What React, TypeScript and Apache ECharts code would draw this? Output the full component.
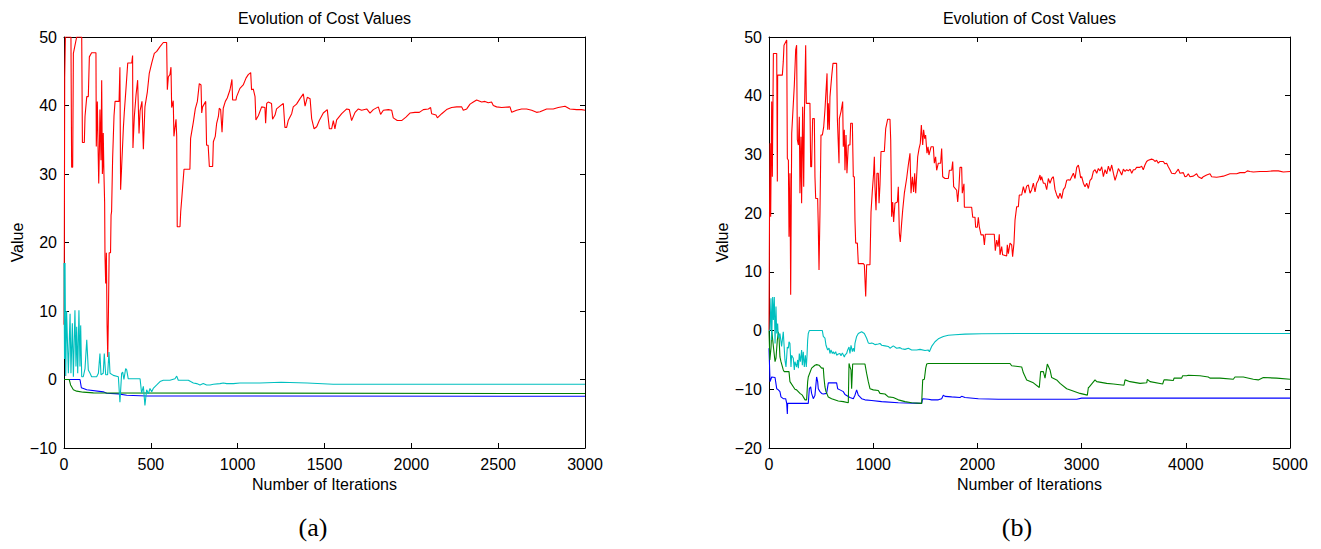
import React, { useEffect, useRef } from "react";
import * as echarts from "echarts";

// ---------- Panel (a) data: [iteration, value] ----------
const redA: number[][] = [
  [0, 8], [2, 20], [4, 44], [8, 50], [40, 50], [44, 31], [50, 31], [54, 47.6], [65, 49], [73, 50], [102, 50],
  [106, 34.6], [117, 34.6], [121, 38.4], [131, 41.3], [140, 41.3], [146, 47.1], [159, 47.7], [184, 47.7],
  [186, 34], [192, 40.6], [196, 34], [200, 28.6], [204, 34], [207, 39.4], [213, 32], [217, 43.7], [221, 30],
  [223, 31.1], [226, 36], [230, 30], [234, 25.8], [236, 18], [240, 14], [244, 18.5], [248, 8], [252, 3.3],
  [256, 10], [260, 18.5], [268, 18.5], [271, 24], [274, 24.5], [280, 32.3], [288, 38.5], [294, 40.6],
  [317, 40.6], [322, 45.6], [326, 27.7], [332, 31.1], [342, 36.8], [347, 38.9], [357, 42.5], [367, 46.2],
  [390, 46.2], [395, 47.3], [397, 33.8], [405, 38.4], [415, 41.6], [424, 43.7], [432, 35.9], [438, 39.2],
  [449, 40.6], [457, 33.6], [466, 39.8], [480, 42], [491, 44.7], [505, 46.2], [520, 47.6], [534, 47.9],
  [553, 48.6], [572, 49.2], [591, 49.2], [595, 42.3], [601, 44.2], [610, 44.5], [616, 45.6], [620, 39.7],
  [629, 40.7], [633, 35.5], [645, 38], [649, 35.5], [652, 22.3], [668, 22.3], [672, 24.5], [679, 26.7],
  [691, 30.7], [725, 30.7], [729, 35.2], [745, 37.6], [756, 39.5], [768, 40.6], [779, 43.2], [789, 43],
  [793, 38.9], [798, 39.8], [816, 40.6], [821, 34.2], [830, 34.2], [837, 31.1], [856, 31.1], [860, 34.7],
  [871, 35.5], [879, 37.4], [889, 38.4], [894, 39.6], [902, 39.4], [910, 36.1], [917, 39.6], [929, 40.6],
  [940, 41.1], [956, 42.3], [967, 43.8], [971, 40.8], [990, 40.8], [994, 41.3], [1013, 42.5], [1032, 43],
  [1048, 44], [1061, 44.5], [1075, 44.8], [1080, 42.3], [1090, 42.4], [1100, 41.3], [1105, 37.9],
  [1119, 38.5], [1138, 39.8], [1157, 39.7], [1161, 37.4], [1167, 40.3], [1176, 40.5], [1195, 40.3],
  [1201, 38], [1215, 38.6], [1224, 39.5], [1243, 39.9], [1263, 40.3], [1272, 36.8], [1282, 36.8],
  [1291, 37.8], [1311, 38.8], [1320, 39.8], [1339, 40.2], [1359, 41], [1378, 41.7], [1388, 39.9],
  [1401, 41.2], [1417, 41], [1426, 38.1], [1440, 36.6], [1455, 36.9], [1470, 37.8], [1493, 38.9],
  [1516, 39.4], [1528, 36.6], [1541, 36.6], [1551, 37.8], [1560, 36.6], [1570, 37.9], [1599, 38.8],
  [1628, 39.5], [1643, 39.4], [1656, 37.8], [1676, 39], [1695, 39.5], [1714, 39.3], [1743, 39.5],
  [1762, 38.9], [1781, 39.4], [1810, 39.8], [1823, 38.7], [1839, 39.3], [1868, 39.4], [1887, 39.3],
  [1896, 38.2], [1919, 37.8], [1944, 37.8], [1969, 38.3], [1992, 38.9], [2021, 39], [2046, 39],
  [2069, 39.4], [2098, 39.5], [2111, 39.7], [2117, 38.8], [2142, 38.6], [2150, 38.2], [2175, 38.8],
  [2203, 39.4], [2232, 39.7], [2261, 39.8], [2290, 39.8], [2299, 39.3], [2319, 39.5], [2338, 40.2],
  [2357, 40.5], [2376, 40.8], [2405, 40.5], [2424, 40.6], [2443, 40.4], [2462, 40.5], [2472, 40],
  [2491, 39.8], [2520, 39.7], [2568, 39.8], [2578, 39], [2606, 39.3], [2635, 39.5], [2664, 39.5],
  [2693, 39.3], [2721, 39], [2741, 39.1], [2779, 39.5], [2817, 39.5], [2846, 39.7], [2885, 39.9],
  [2913, 39.5], [2952, 39.4], [2981, 39.4], [3000, 39.3],
];

const cyanA: number[][] = [
  [0, 17], [3, 3], [6, 17], [10, 0.5], [15, 10], [25, 0.9], [35, 9.6], [40, 0.9], [48, 8.2], [54, 0.4],
  [63, 10.1], [69, 1.9], [73, 7.7], [79, 0.9], [86, 10.1], [92, 1.9], [96, 7.9], [102, 0.4], [111, 0.4],
  [121, 1.6], [131, 5.8], [140, 1.4], [150, 0.9], [159, 0.4], [188, 0.4], [198, 0.9], [207, 3.8],
  [213, 0.7], [226, 0.9], [232, 3.8], [240, 0.7], [251, 0.7], [259, 4], [265, 0.9], [284, 0.6],
  [313, 0.4], [322, -3.3], [332, 0.9], [338, 1.1], [345, 0], [355, 1.6], [361, 1.4], [370, 0.1],
  [418, 0.1], [438, 0.1], [447, -2], [457, -1], [466, -3.8], [476, -1.5], [486, -2.1], [495, -1.3],
  [505, -1.8], [514, -1.3], [534, -0.8], [553, -0.3], [572, -0.1], [591, -0.1], [610, -0.1], [639, 0.1],
  [649, 0.5], [658, -0.1], [687, -0.1], [716, -0.1], [729, -0.3], [745, -0.5], [764, -0.6], [783, -0.8],
  [802, -0.6], [821, -0.8], [841, -0.8], [860, -0.7], [898, -0.6], [917, -0.5], [937, -0.6], [975, -0.6],
  [1013, -0.5], [1052, -0.5], [1090, -0.5], [1128, -0.5], [1250, -0.4], [1400, -0.5], [1550, -0.7],
  [2000, -0.7], [2500, -0.7], [3000, -0.7],
];

const greenA: number[][] = [
  [0, 0], [30, 0], [38, -0.8], [54, -1.5], [73, -1.7], [111, -1.85], [169, -1.95], [3000, -2.05],
];

const blueA: number[][] = [
  [0, 0], [92, 0], [100, -1.2], [131, -1.5], [226, -1.8], [246, -2], [313, -2.1], [361, -2.3],
  [476, -2.4], [3000, -2.45],
];

// ---------- Panel (b) data: [iteration, value] ----------
const redB: number[][] = [
  [0, 0], [5, 20], [10, 31.9], [16, 19.4], [26, 39], [32, 26.2], [42, 47.2], [74, 47.2], [80, 25.4],
  [83, 43.5], [128, 43.5], [137, 45.8], [144, 48.6], [170, 49.5], [176, 29.3], [186, 29], [192, 16],
  [201, 26.8], [208, 6.1], [218, 33.6], [224, 33.6], [243, 41.8], [256, 47.8], [265, 48.6], [272, 32.5],
  [282, 31.6], [291, 36.4], [297, 23.4], [307, 33], [313, 21.7], [323, 38.1], [333, 24.5], [339, 35.9],
  [352, 48.6], [358, 38.7], [393, 38.7], [400, 27.9], [409, 27.9], [419, 36.1], [435, 36.1], [441, 26.2],
  [448, 22.5], [467, 22.5], [473, 17.7], [480, 10.3], [489, 20], [499, 33.3], [512, 33.3], [525, 34.7],
  [537, 37.6], [547, 40.7], [557, 43.8], [563, 34.2], [569, 38.7], [579, 34.2], [585, 39.8], [601, 43.2],
  [614, 45.5], [649, 45.5], [656, 36.1], [672, 28.5], [675, 36.1], [691, 37.3], [707, 39], [713, 31.3],
  [723, 34.2], [729, 27.3], [739, 33.3], [748, 26.8], [761, 31.6], [777, 31.6], [784, 35.3], [800, 35.3],
  [809, 26.2], [819, 26.2], [825, 18.8], [832, 14.9], [848, 14.9], [857, 11.4], [905, 11.4], [915, 11.2],
  [928, 5.8], [937, 11.2], [969, 11.2], [979, 20.2], [992, 23.9], [1004, 26.8], [1011, 29.6], [1017, 24.5],
  [1027, 20.5], [1036, 26.8], [1049, 26.8], [1056, 21.7], [1065, 24.8], [1075, 30.5], [1107, 30.5],
  [1120, 34.4], [1139, 36], [1161, 36], [1168, 32.5], [1177, 19.4], [1187, 21.9], [1196, 18.5],
  [1209, 21.7], [1232, 21.9], [1241, 24.5], [1251, 16.6], [1260, 15.1], [1273, 18.3], [1283, 20.5],
  [1299, 23.4], [1321, 25.9], [1337, 28.2], [1353, 30.2], [1363, 23.4], [1376, 26.2], [1388, 23.6],
  [1398, 26.8], [1408, 23.4], [1420, 27.3], [1427, 29.6], [1440, 31], [1452, 31.9], [1462, 35],
  [1475, 31.6], [1484, 34.2], [1494, 32.7], [1503, 33.3], [1516, 30.2], [1526, 31.3], [1535, 29.9],
  [1555, 31.3], [1577, 31.3], [1587, 28.5], [1599, 29.6], [1609, 27.3], [1625, 28.5], [1647, 28.5],
  [1657, 31], [1667, 26.2], [1689, 25.9], [1721, 25.9], [1731, 27.3], [1753, 27.3], [1763, 28.8],
  [1772, 24.5], [1801, 23.9], [1811, 21.9], [1823, 24.5], [1833, 27.8], [1849, 27.8], [1855, 23.4],
  [1871, 25], [1875, 21], [1945, 21], [1955, 19.3], [1977, 19.3], [1983, 17.6], [1999, 17.6],
  [2009, 19.3], [2019, 17.6], [2035, 16.3], [2057, 16.3], [2067, 14.6], [2076, 16.4], [2162, 16.4],
  [2172, 13.6], [2185, 15.4], [2198, 14.3], [2210, 16.4], [2217, 12.9], [2233, 14.3], [2242, 12.9],
  [2281, 12.7], [2287, 14.6], [2297, 13.1], [2313, 14.9], [2329, 14.6], [2338, 12.6], [2351, 14.9],
  [2361, 18.8], [2377, 21.1], [2393, 21.1], [2402, 23.1], [2425, 23.1], [2441, 24.5], [2457, 23.4],
  [2473, 24.6], [2489, 24.8], [2505, 23.4], [2521, 24], [2537, 25.1], [2553, 23.6], [2569, 25.1],
  [2585, 25.6], [2601, 26.5], [2607, 25.6], [2617, 26.2], [2633, 25.1], [2649, 25.1], [2665, 24],
  [2681, 25.9], [2697, 25.1], [2713, 25.9], [2729, 26.2], [2745, 24], [2761, 23.1], [2777, 22.5],
  [2793, 23.4], [2809, 22.5], [2825, 24], [2841, 24.4], [2857, 25.6], [2873, 25.7], [2889, 25.6],
  [2905, 26.2], [2921, 26.8], [2937, 25.9], [2953, 27.8], [2969, 28.2], [2978, 27.4], [2991, 26],
  [3001, 26.2], [3017, 25.1], [3033, 24.5], [3049, 25.1], [3065, 24.2], [3081, 25.6], [3097, 25.9],
  [3113, 27.1], [3129, 27.4], [3145, 26.8], [3161, 27.6], [3177, 27.2], [3193, 27.9], [3209, 26.2],
  [3225, 27.4], [3241, 26.7], [3257, 28], [3273, 27.1], [3289, 28.2], [3305, 26.8], [3321, 25.6],
  [3337, 26.5], [3353, 27.6], [3369, 27.1], [3385, 26.5], [3401, 27.5], [3417, 27.1], [3433, 27.4],
  [3449, 27.2], [3465, 27.5], [3481, 26.8], [3497, 27.4], [3512, 27.4], [3528, 27.8], [3560, 27.8],
  [3576, 28], [3592, 27.4], [3608, 28.2], [3624, 28.8], [3640, 29], [3672, 29.2], [3688, 29.1],
  [3704, 28.8], [3720, 29], [3736, 28.5], [3752, 28.8], [3784, 28.8], [3800, 28.4], [3816, 28.5],
  [3832, 27.9], [3848, 27.4], [3864, 26.8], [3896, 26.7], [3912, 27.1], [3928, 27.5], [3944, 26.8],
  [3976, 26.9], [3992, 26.2], [4008, 26.3], [4024, 26.7], [4040, 26.2], [4072, 26.3], [4104, 26.7],
  [4120, 26.2], [4152, 25.9], [4168, 26.2], [4200, 26.5], [4232, 26.7], [4248, 26.2], [4296, 26.1],
  [4328, 26.2], [4360, 26.3], [4392, 26.5], [4424, 26.7], [4488, 26.7], [4520, 26.9], [4568, 26.9],
  [4591, 27.2], [4616, 27.1], [4648, 27], [4712, 27.1], [4776, 27.1], [4840, 27.2], [4888, 27.2],
  [4936, 27], [5000, 27.1],
];

const cyanB: number[][] = [
  [0, 0], [10, 0.1], [19, 5.5], [26, -1.6], [35, 5.7], [42, 1.8], [51, 5.7], [58, -2.2], [67, 4.1],
  [74, -0.5], [83, 1.2], [90, -1.3], [105, -0.5], [121, -2.7], [137, -0.2], [153, -5], [163, -6.2],
  [176, -2.8], [186, -3], [192, -1.9], [201, -2.2], [211, -6.2], [217, -4.2], [233, -4.7], [243, -6.7],
  [249, -5.3], [265, -6.2], [275, -5], [282, -6.4], [291, -3.9], [301, -5.3], [313, -3.3], [320, -5.9],
  [329, -3.6], [339, -6.2], [349, -4.2], [358, -6.2], [365, -4.2], [371, -1.6], [377, -0.5], [387, 0],
  [441, 0], [512, 0], [521, -1], [537, -1.3], [547, -2.5], [563, -3.3], [576, -3], [585, -3.9],
  [595, -3.3], [608, -3.9], [617, -3.6], [627, -4], [640, -3.6], [649, -4.2], [665, -4], [681, -3.9],
  [691, -4.3], [704, -3.8], [723, -4.5], [729, -4.2], [745, -3.9], [755, -3.3], [768, -2.8], [777, -3.9],
  [787, -2.5], [800, -3.6], [809, -3], [819, -3.6], [825, -2.2], [841, -1], [857, -0.5], [889, -0.2],
  [915, -0.5], [937, -1.3], [953, -2.1], [969, -2.2], [985, -2.1], [1001, -2.2], [1017, -2.4],
  [1049, -2.3], [1065, -2.2], [1081, -2.5], [1113, -2.6], [1145, -2.7], [1161, -3], [1193, -2.6],
  [1225, -3], [1257, -2.9], [1273, -3.1], [1305, -3.2], [1337, -3], [1369, -3.3], [1417, -3.3],
  [1449, -3.2], [1497, -3.4], [1529, -3.3], [1539, -3.6], [1561, -2.7], [1593, -1.9], [1625, -1.4],
  [1673, -1], [1721, -0.8], [1785, -0.7], [1881, -0.6], [2041, -0.55], [2457, -0.5], [3000, -0.5],
  [4000, -0.5], [5000, -0.5],
];

const greenB: number[][] = [
  [0, 0], [8, -5], [19, -3], [26, 0], [42, -2.7], [58, -5.3], [67, -4.7], [80, -1.6], [90, -0.2],
  [96, -1.1], [105, -4.5], [115, -5.3], [137, -6.7], [147, -7], [192, -7], [201, -8.7], [249, -10],
  [265, -10.1], [297, -10.7], [320, -11], [346, -11.8], [361, -11.8], [371, -8.7], [377, -7.9],
  [409, -6.4], [441, -5.9], [457, -5.8], [480, -5.9], [505, -6.4], [521, -6.4], [528, -8.1], [537, -9.6],
  [547, -10.4], [569, -11.3], [601, -11.6], [665, -12], [713, -12.1], [761, -12.3], [768, -5.6],
  [777, -6.2], [787, -6.7], [793, -9.9], [803, -5.7], [921, -5.7], [937, -7.3], [953, -8.7], [969, -9.9],
  [1001, -10.1], [1049, -10.2], [1065, -10.7], [1113, -10.8], [1145, -11.3], [1193, -11.4],
  [1241, -11.8], [1305, -12.1], [1369, -12.3], [1465, -12.4], [1475, -8.4], [1491, -8.3], [1504, -6.4],
  [1513, -5.7], [1529, -5.6], [2313, -5.6], [2329, -6], [2425, -6.2], [2441, -7.2], [2473, -8.4],
  [2537, -8.9], [2594, -9.7], [2607, -7], [2633, -7], [2649, -8.1], [2671, -5.7], [2697, -6.7],
  [2713, -8], [2761, -8.4], [2793, -9], [2857, -9.9], [2905, -10.2], [2985, -10.7], [3055, -11],
  [3065, -9.7], [3074, -9.6], [3129, -8.4], [3145, -8.7], [3241, -9], [3305, -9.1], [3407, -9.3],
  [3417, -8.4], [3465, -8.7], [3561, -9], [3625, -8.9], [3631, -8.3], [3657, -8.7], [3778, -9.1],
  [3791, -8.4], [3817, -8.4], [3881, -8.5], [3887, -8.1], [3960, -8.1], [3970, -7.7], [4008, -7.7],
  [4024, -7.6], [4136, -7.7], [4216, -7.9], [4232, -8.1], [4328, -8.1], [4456, -8.3], [4472, -7.9],
  [4552, -7.9], [4648, -8.3], [4696, -8.4], [4744, -8], [4872, -8.1], [5000, -8.3],
];

const blueB: number[][] = [
  [0, -3], [10, -8.7], [26, -7.9], [58, -8], [74, -9.9], [90, -10.1], [105, -10.4], [115, -11.3],
  [137, -11.6], [160, -11.6], [170, -12.4], [176, -14.2], [179, -12.4], [377, -12.4], [387, -9.9],
  [400, -9.6], [409, -10.7], [425, -11.6], [441, -11], [457, -7.9], [467, -8.7], [473, -9.9],
  [489, -10.4], [505, -10.7], [521, -10.8], [553, -10.7], [569, -8.9], [649, -8.9], [659, -9.9],
  [681, -10.1], [713, -10.4], [729, -10.9], [777, -11.4], [809, -11.6], [825, -11], [841, -10.1],
  [857, -11], [889, -11.6], [921, -11.8], [985, -11.9], [1081, -12.1], [1241, -12.3], [1465, -12.4],
  [1475, -11.6], [1529, -11.7], [1561, -11.8], [1625, -11.8], [1657, -11.6], [1673, -11], [1689, -11.2],
  [1753, -11.3], [1833, -11.4], [1849, -11.2], [1881, -11.4], [2009, -11.6], [2201, -11.7],
  [2457, -11.7], [2953, -11.7], [3000, -11.5], [5000, -11.5],
];

// ---------- Axis settings ----------
const xRangeA = { min: 0, max: 3000, interval: 500 };
const yRangeA = { min: -10, max: 50, interval: 10 };
const xRangeB = { min: 0, max: 5000, interval: 1000 };
const yRangeB = { min: -20, max: 50, interval: 10 };

const titleText = "Evolution of Cost Values";
const xName = "Number of Iterations";
const yName = "Value";
const panelLabels = ["(a)", "(b)"];

const COLORS = { red: "#ff0000", cyan: "#00bfbf", green: "#008000", blue: "#0000ff" };
const FONT = "'Liberation Sans', Arial, Helvetica, sans-serif";
const FS = 16;

const fmt = (v: number) => (v < 0 ? "\u2212" + Math.abs(v) : String(v));

export default function App() {
  const ref = useRef<HTMLDivElement>(null);

  useEffect(() => {
    if (!ref.current) return;
    const chart = echarts.init(ref.current, undefined, { renderer: "svg" });

    const grids = [
      { left: 64, top: 37, width: 521, height: 411 },
      { left: 769, top: 37, width: 521, height: 411 },
    ];
    const xr = [xRangeA, xRangeB];
    const yr = [yRangeA, yRangeB];

    const xAxes: any[] = [];
    const yAxes: any[] = [];
    [0, 1].forEach((g) => {
      const baseX = {
        type: "value",
        gridIndex: g,
        ...xr[g],
        splitLine: { show: false },
        axisLine: { show: true, onZero: false, lineStyle: { color: "#000", width: 1 } },
        axisTick: { show: true, inside: true, length: 5, lineStyle: { color: "#000" } },
      };
      xAxes.push({
        ...baseX,
        position: "bottom",
        name: xName,
        nameLocation: "middle",
        nameGap: 24,
        nameTextStyle: { color: "#000", fontSize: FS, fontFamily: FONT },
        axisLabel: { color: "#000", fontSize: FS, fontFamily: FONT, margin: 8, formatter: fmt },
      });
      xAxes.push({ ...baseX, position: "top", axisLabel: { show: false } });
      const baseY = {
        type: "value",
        gridIndex: g,
        ...yr[g],
        splitLine: { show: false },
        axisLine: { show: true, onZero: false, lineStyle: { color: "#000", width: 1 } },
        axisTick: { show: true, inside: true, length: 5, lineStyle: { color: "#000" } },
      };
      yAxes.push({
        ...baseY,
        position: "left",
        name: yName,
        nameLocation: "middle",
        nameGap: 39,
        nameTextStyle: { color: "#000", fontSize: FS, fontFamily: FONT },
        axisLabel: { color: "#000", fontSize: FS, fontFamily: FONT, margin: 7, formatter: fmt },
      });
      yAxes.push({ ...baseY, position: "right", axisLabel: { show: false } });
    });

    const mk = (name: string, data: number[][], color: string, g: number) => ({
      name,
      type: "line",
      xAxisIndex: g * 2,
      yAxisIndex: g * 2,
      data,
      showSymbol: false,
      symbol: "none",
      clip: true,
      lineStyle: { color, width: 1.1 },
      itemStyle: { color },
    });

    chart.setOption({
      animation: false,
      backgroundColor: "#fff",
      title: [0, 1].map((g) => ({
        text: titleText,
        left: grids[g].left + grids[g].width / 2,
        top: 10,
        padding: 0,
        textAlign: "center",
        textStyle: { color: "#000", fontSize: FS, fontWeight: "normal", fontFamily: FONT },
      })),
      grid: grids,
      xAxis: xAxes,
      yAxis: yAxes,
      series: [
        mk("blue (a)", blueA, COLORS.blue, 0),
        mk("green (a)", greenA, COLORS.green, 0),
        mk("red (a)", redA, COLORS.red, 0),
        mk("cyan (a)", cyanA, COLORS.cyan, 0),
        mk("blue (b)", blueB, COLORS.blue, 1),
        mk("green (b)", greenB, COLORS.green, 1),
        mk("red (b)", redB, COLORS.red, 1),
        mk("cyan (b)", cyanB, COLORS.cyan, 1),
      ],
      graphic: [0, 1].map((g) => ({
        type: "text",
        x: [313, 1017][g],
        y: 527,
        style: {
          text: panelLabels[g],
          fill: "#000",
          font: "26px 'Liberation Serif', 'Times New Roman', serif",
          textAlign: "center",
          textVerticalAlign: "middle",
        },
      })),
    });

    return () => chart.dispose();
  }, []);

  return (
    <div
      ref={ref}
      style={{ position: "fixed", left: 0, top: 0, width: 1321, height: 549, background: "#fff" }}
    />
  );
}
